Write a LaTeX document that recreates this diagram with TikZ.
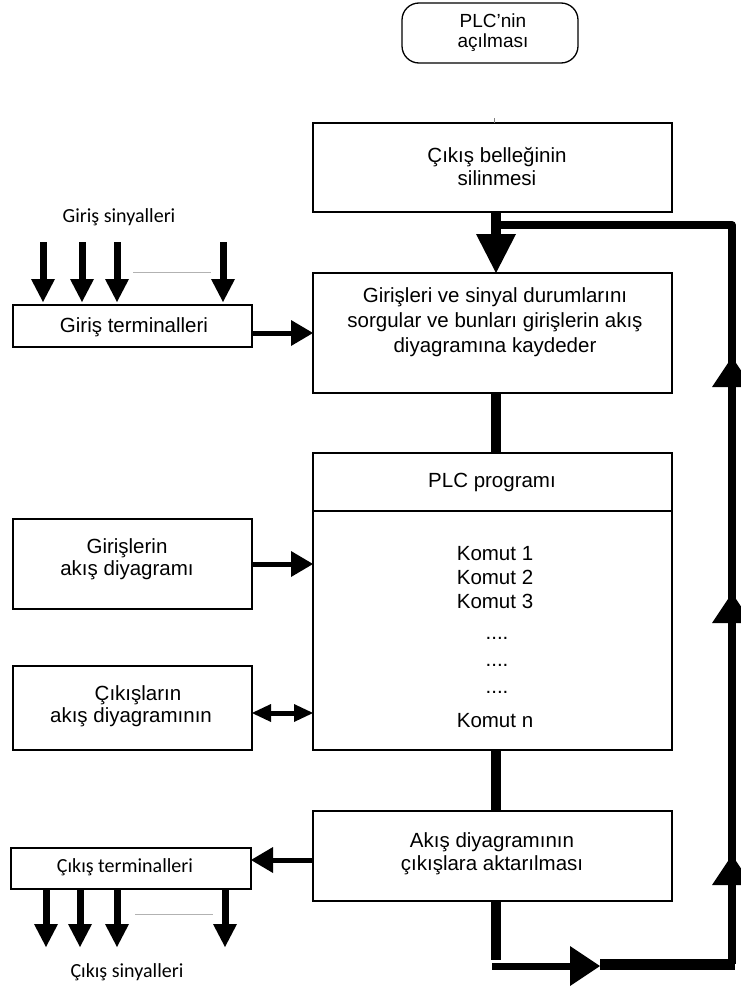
\documentclass[tikz,border=0pt]{standalone}
\usepackage{fontspec}
\setmainfont{Liberation Sans}
\newfontfamily\carlito{Carlito}
\usetikzlibrary{arrows.meta}
\tikzset{
  bigtip/.tip={Triangle[length=39pt 0 0,width=40pt 0 0,line width=0pt]},
  rtip/.tip={Triangle[length=30pt 0 0,width=40pt 0 0,line width=0pt]},
  smalltip/.tip={Triangle[length=22pt 0 0,width=26pt 0 0,line width=0pt]},
  sigtip/.tip={Triangle[length=23pt 0 0,width=24pt 0 0,line width=0pt]},
  dbltip/.tip={Triangle[length=19pt 0 0,width=18pt 0 0,line width=0pt]},
  box/.style={draw, rectangle, inner sep=0pt, outer sep=0pt, line width=2pt},
  lbl/.style={font=\fontsize{20.5}{24}\selectfont, align=center, inner sep=0pt},
  clbl/.style={font=\carlito\fontsize{20}{24}\selectfont, align=center, inner sep=0pt},
  heavy/.style={line width=10pt},
  loopline/.style={line width=8pt, line join=round},
  smallarrow/.style={line width=5pt},
  sigarrow/.style={line width=7pt},
  grayline/.style={draw=gray!60, line width=1pt}
}
\begin{document}
\begin{tikzpicture}[x=1pt,y=-1pt]
\useasboundingbox (0,0) rectangle (741,988);

% top rounded box
\node[draw, rounded corners=17pt, line width=1.3pt, minimum width=176pt, minimum height=60pt, inner sep=0pt] (start) at (490,33) {};
\node[inner sep=0pt, align=center, font=\fontsize{19}{20}\selectfont] (starttext) at (493,33) {PLC’nin\\açılması};

% box 1
\node[box, line width=1.3pt, minimum width=359pt, minimum height=89pt] (b1) at (492.5,167.5) {};
\node[lbl, font=\fontsize{20.5}{23}\selectfont] (t1) at (497,166.5) {Çıkış belleğinin\\silinmesi};
\coordinate (tick1) at (494,118);
\draw[gray, line width=1pt] (tick1) -- (tick1 |- b1.north);

% box 2
\node[box, minimum width=359pt, minimum height=120pt] (b2) at (492.5,333) {};
\node[lbl, font=\fontsize{20.5}{25}\selectfont] (t2) at (495,322) {Girişleri ve sinyal durumlarını\\sorgular ve bunları girişlerin akış\\diyagramına kaydeder};

% box 3
\node[box, minimum width=359pt, minimum height=297pt] (b3) at (492.5,601.5) {};
\coordinate (sepl) at (313,511);
\draw[line width=2pt] (sepl) -- (sepl -| b3.east);
\node[lbl] (plc) at (492,482) {PLC programı};
\node[lbl, anchor=base] (k1) at (495,560) {Komut 1};
\node[lbl, anchor=base] (k2) at (495,584) {Komut 2};
\node[lbl, anchor=base] (k3) at (495,608) {Komut 3};
\node[lbl, anchor=base] (d1) at (497,639) {....};
\node[lbl, anchor=base] (d2) at (497,666) {....};
\node[lbl, anchor=base] (d3) at (497,693) {....};
\node[lbl, anchor=base] (kn) at (495,727) {Komut n};

% box 4
\node[box, minimum width=359pt, minimum height=90pt] (b4) at (492.5,856) {};
\node[lbl, font=\fontsize{20.5}{23}\selectfont] (t4) at (492,853.5) {Akış diyagramının\\çıkışlara aktarılması};

% left boxes
\node[box, line width=1.5pt, minimum width=239pt, minimum height=42pt] (gt) at (132.5,326) {};
\node[lbl] (gtt) at (134,327) {Giriş terminalleri};
\node[box, line width=1.2pt, minimum width=239pt, minimum height=90pt] (ga) at (132.5,564) {};
\node[lbl, font=\fontsize{20.5}{22}\selectfont] (gat) at (127,559) {Girişlerin\\akış diyagramı};
\node[box, line width=1.2pt, minimum width=239pt, minimum height=84pt] (ca) at (132.5,708) {};
\node[lbl, font=\fontsize{20.5}{22}\selectfont] (cat) at (131,706) {\hspace*{14pt}Çıkışların\\akış diyagramının};
\node[box, line width=2.3pt, minimum width=240pt, minimum height=41pt] (ct) at (131,868.5) {};
\node[clbl] (ctt) at (125,867) {Çıkış terminalleri};

% signal labels
\node[clbl] (gs) at (119,217) {Giriş sinyalleri};
\node[clbl] (cs) at (127,972) {Çıkış sinyalleri};

% input signal arrows
\coordinate (in1) at (43,242);
\coordinate (in2) at (82,242);
\coordinate (in3) at (117,242);
\coordinate (in4) at (223,242);
\foreach \i in {1,2,3,4}{
  \draw[sigarrow, -{sigtip}, shorten >=3pt] (in\i) -- (in\i |- gt.north);
}
\coordinate (ig1) at (133,272);
\coordinate (ig2) at (211,272);
\draw[grayline] (ig1) -- (ig2);

% output signal arrows
\coordinate (o1) at (46,947);
\coordinate (o2) at (80,947);
\coordinate (o3) at (117,947);
\coordinate (o4) at (225,947);
\foreach \i in {1,2,3,4}{
  \draw[sigarrow, -{sigtip}] (o\i |- ct.south) -- (o\i);
}
\coordinate (og1) at (135,914);
\coordinate (og2) at (213,914);
\draw[grayline] (og1) -- (og2);

% side arrows
\draw[smallarrow, -{smalltip}] (gt.east |- 0,333) -- (b2.west |- 0,333);
\draw[smallarrow, -{smalltip}] (ga.east |- 0,564) -- (b3.west |- 0,564);
\draw[smallarrow, {dbltip}-{dbltip}] (ca.east |- 0,713) -- (b3.west |- 0,713);
\draw[smallarrow, -{smalltip}] (b4.west |- 0,860) -- (ct.east |- 0,860);

% main column
\draw[heavy, -{bigtip}] ([xshift=3.5pt]b1.south) -- ([xshift=3.5pt]b2.north);
\draw[heavy] ([xshift=3.5pt]b2.south) -- ([xshift=3.5pt]b3.north);
\draw[heavy] ([xshift=3.5pt]b3.south) -- ([xshift=3.5pt]b4.south |- b4.north);

% feedback loop
\coordinate (lb) at (496,960);
\coordinate (ls) at (492,966);
\coordinate (lm) at (600,964);
\coordinate (lr) at (732,964);
\coordinate (tr) at (732,225);
\coordinate (tl) at (496,225);
\draw[heavy] ([xshift=3.5pt]b4.south) -- (lb);
\draw[line width=7pt, -{rtip}] (ls) -- (ls -| lm);
\draw[line width=11pt] (lm) -- ([xshift=3pt]lr);
\draw[loopline] (lr) -- (tr) -- (tl);

% upward arrowheads on the right
\coordinate (u1s) at (732,400);
\coordinate (u1) at (732,357);
\coordinate (u2s) at (732,640);
\coordinate (u2) at (732,593);
\coordinate (u3s) at (732,900);
\coordinate (u3) at (732,855);
\draw[line width=7pt, -{rtip}] (u1s) -- (u1);
\draw[line width=7pt, -{rtip}] (u2s) -- (u2);
\draw[line width=7pt, -{rtip}] (u3s) -- (u3);
\end{tikzpicture}
\end{document}
